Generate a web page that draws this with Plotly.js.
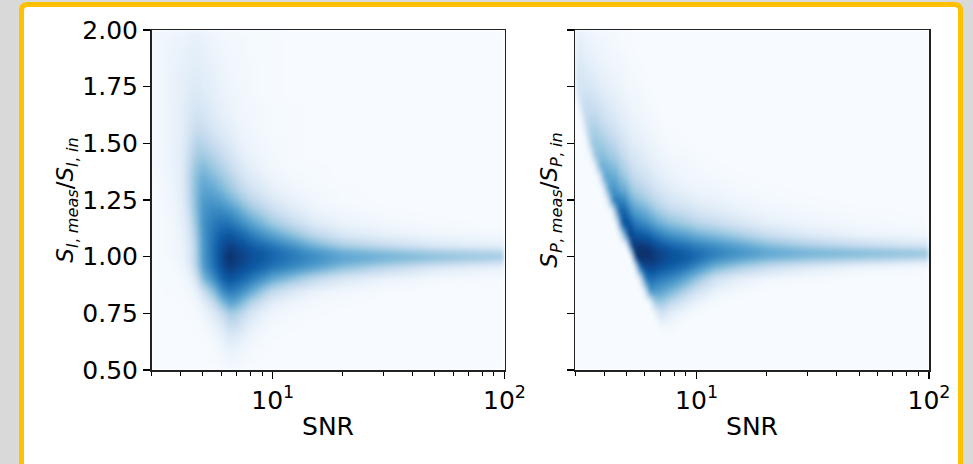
<!DOCTYPE html>
<html>
<head>
<meta charset="utf-8">
<script src="https://cdn.plot.ly/plotly-3.0.1.min.js"></script>
<style>
  html, body { margin: 0; padding: 0; background: #d9d9d9; }
  #chart { width: 973px; height: 464px; }
</style>
</head>
<body>
<div id="chart"></div>
<script>
// SNR sample columns (x) for each panel and the shared ratio rows (y) of the density grids
const snrI = [3, 3.25, 3.5, 3.75, 4, 4.25, 4.5, 4.75, 5, 5.5, 6, 6.5, 7, 7.5, 8, 9, 10, 12, 15, 20, 30, 50, 100];
const snrP = [3, 3.1, 3.2, 3.3, 3.4, 3.5, 3.6, 3.7, 3.8, 3.9, 4, 4.15, 4.3, 4.45, 4.6, 4.75, 4.9,
              5.05, 5.2, 5.4, 5.6, 5.8, 6, 6.25, 6.5, 6.75, 7, 7.5, 8, 9, 10, 12, 15, 20, 30, 50, 100];
const ratio = [0.50, 0.55, 0.60, 0.65, 0.70, 0.75, 0.80, 0.85, 0.90, 0.95, 0.975, 1.00, 1.025, 1.05,
               1.10, 1.15, 1.20, 1.25, 1.30, 1.35, 1.40, 1.45, 1.50, 1.55, 1.60, 1.65, 1.70,
               1.75, 1.80, 1.85, 1.90, 1.95, 2.00];

// Tick values and labels
const xTickVals = [10, 100];
const xTickText = ['10<sup>1</sup>', '10<sup>2</sup>'];
const xMinorVals = [3, 4, 5, 6, 7, 8, 9, 20, 30, 40, 50, 60, 70, 80, 90];
const yTickVals = [0.5, 0.75, 1.0, 1.25, 1.5, 1.75, 2.0];
const yTickText = ['0.50', '0.75', '1.00', '1.25', '1.50', '1.75', '2.00'];

// Relative density (0-100) of S_I: one column per snrI value, ratio 0.50 up to 2.00
const densityI = [
  [0,0,0,0,0,0,0,0,0,1,1,1,1,1,1,1,1,1,1,1,2,2,2,2,2,2,2,2,2,2,2,2,2],
  [0,0,0,0,0,0,0,0,1,1,1,1,1,1,1,1,2,2,2,2,3,3,3,3,3,3,3,3,3,3,3,3,3],
  [0,0,0,0,0,0,0,1,1,1,1,2,2,2,2,2,3,3,3,4,4,4,4,5,5,5,5,5,5,5,5,4,4],
  [0,0,0,0,0,0,0,1,1,2,2,3,3,3,3,4,4,5,6,6,7,7,7,7,7,7,7,7,7,6,6,5,5],
  [0,0,0,0,0,0,1,1,2,3,4,5,5,5,6,7,8,9,10,10,10,10,10,9,9,9,8,8,8,7,7,6,5],
  [0,0,0,0,0,1,1,2,4,7,9,10,10,11,12,14,17,20,21,22,21,19,17,15,14,13,12,11,10,9,8,7,6],
  [0,0,0,0,1,1,2,4,10,18,21,22,22,23,26,31,35,37,38,37,34,30,26,22,19,16,14,12,11,10,9,8,7],
  [0,0,0,1,1,2,4,10,24,36,39,40,40,41,43,46,48,48,47,45,41,36,31,26,21,18,15,13,12,11,10,8,7],
  [0,0,0,1,2,4,9,22,44,56,58,59,59,60,61,62,61,59,55,50,44,37,30,24,19,16,13,11,10,9,8,7,6],
  [0,1,1,3,6,12,24,42,62,73,75,76,76,76,74,71,66,60,53,45,38,31,24,18,14,12,10,9,8,7,6,5,4],
  [1,2,4,8,14,24,44,64,80,88,90,91,90,88,83,75,66,56,46,38,31,24,18,13,10,8,7,6,5,5,4,3,3],
  [2,4,8,14,24,36,56,72,86,95,98,100,98,94,85,74,62,49,39,31,24,18,13,10,8,6,5,4,4,3,3,2,2],
  [2,4,7,12,22,33,52,68,82,91,94,95,94,90,81,69,56,43,32,24,18,13,9,7,5,4,4,3,3,3,2,2,2],
  [1,2,4,8,15,25,42,62,78,88,91,92,91,87,77,63,48,35,25,17,12,8,6,5,4,3,3,3,2,2,2,2,1],
  [0,1,2,5,9,16,32,53,72,84,87,88,87,82,71,56,41,29,19,13,9,6,5,4,3,3,2,2,2,2,1,1,1],
  [0,0,1,2,4,8,19,38,62,78,82,84,83,77,62,46,32,21,13,8,5,4,3,2,2,2,1,1,1,1,1,1,1],
  [0,0,0,1,2,4,10,26,52,72,77,79,78,72,55,37,24,14,8,5,3,2,2,1,1,1,1,1,1,1,1,1,1],
  [0,0,0,0,1,2,5,15,40,64,70,72,70,62,42,26,14,8,4,2,1,1,1,1,1,1,0,0,0,0,0,0,0],
  [0,0,0,0,0,1,2,7,26,54,62,64,60,48,28,13,6,3,2,1,1,0,0,0,0,0,0,0,0,0,0,0,0],
  [0,0,0,0,0,0,1,3,14,40,51,54,49,34,15,6,3,1,1,0,0,0,0,0,0,0,0,0,0,0,0,0,0],
  [0,0,0,0,0,0,0,1,6,27,42,48,42,25,8,3,1,0,0,0,0,0,0,0,0,0,0,0,0,0,0,0,0],
  [0,0,0,0,0,0,0,0,2,13,32,42,34,14,4,1,0,0,0,0,0,0,0,0,0,0,0,0,0,0,0,0,0],
  [0,0,0,0,0,0,0,0,1,5,21,36,27,8,2,0,0,0,0,0,0,0,0,0,0,0,0,0,0,0,0,0,0]
];

// Relative density (0-100) of S_P: one column per snrP value, ratio 0.50 up to 2.00
const densityP = [
  [0,0,0,0,0,0,0,0,0,0,0,0,0,0,0,0,0,0,0,0,0,0,0,0,0,0,0,10,15,14,12,9,8],
  [0,0,0,0,0,0,0,0,0,0,0,0,0,0,0,0,0,0,0,0,0,0,0,0,0,0,15,18,17,14,12,9,7],
  [0,0,0,0,0,0,0,0,0,0,0,0,0,0,0,0,0,0,0,0,0,0,0,0,4,22,21,18,16,13,10,8,6],
  [0,0,0,0,0,0,0,0,0,0,0,0,0,0,0,0,0,0,0,0,0,0,0,10,26,25,21,18,14,12,9,7,5],
  [0,0,0,0,0,0,0,0,0,0,0,0,0,0,0,0,0,0,0,0,0,0,16,31,29,25,21,17,13,10,8,5,4],
  [0,0,0,0,0,0,0,0,0,0,0,0,0,0,0,0,0,0,0,0,0,10,35,33,29,23,20,16,12,9,7,5,4],
  [0,0,0,0,0,0,0,0,0,0,0,0,0,0,0,0,0,0,0,0,0,32,39,35,30,25,20,16,12,9,7,5,4],
  [0,0,0,0,0,0,0,0,0,0,0,0,0,0,0,0,0,0,0,0,22,42,40,35,30,23,18,14,10,8,6,4,3],
  [0,0,0,0,0,0,0,0,0,0,0,0,0,0,0,0,0,0,0,8,46,42,36,31,25,20,16,12,9,7,5,4,3],
  [0,0,0,0,0,0,0,0,0,0,0,0,0,0,0,0,0,0,0,32,50,44,37,31,25,20,15,11,8,6,5,4,3],
  [0,0,0,0,0,0,0,0,0,0,0,0,0,0,0,0,0,0,20,54,50,42,35,28,22,17,13,10,7,6,4,3,3],
  [0,0,0,0,0,0,0,0,0,0,0,0,0,0,0,0,0,17,58,55,47,39,32,25,19,15,11,8,7,5,4,3,2],
  [0,0,0,0,0,0,0,0,0,0,0,0,0,0,0,0,0,62,60,52,44,36,29,23,18,13,10,7,5,4,3,2,2],
  [0,0,0,0,0,0,0,0,0,0,0,0,0,0,0,0,46,72,62,52,43,35,28,21,16,12,9,7,5,4,3,2,2],
  [0,0,0,0,0,0,0,0,0,0,0,0,0,0,0,39,78,73,57,47,39,31,24,18,13,10,8,6,4,3,2,2,1],
  [0,0,0,0,0,0,0,0,0,0,0,0,0,0,25,84,80,67,51,41,33,26,20,15,11,9,7,5,4,3,2,1,1],
  [0,0,0,0,0,0,0,0,0,0,0,0,0,0,63,89,82,68,51,40,31,24,18,14,10,8,6,4,3,2,2,1,1],
  [0,0,0,0,0,0,0,0,0,0,0,0,0,47,93,86,72,55,43,33,26,19,14,11,8,6,4,3,2,2,1,1,1],
  [0,0,0,0,0,0,0,0,0,0,0,0,60,97,94,83,64,50,39,30,22,17,12,9,7,5,4,3,2,1,1,1,0],
  [0,0,0,0,0,0,0,0,0,0,36,97,98,96,86,73,58,45,34,26,20,15,11,8,6,4,3,2,2,1,1,0,0],
  [0,0,0,0,0,0,0,0,0,62,92,99,100,97,85,70,55,42,31,23,17,13,9,7,5,4,3,2,1,1,0,0,0],
  [0,0,0,0,0,0,0,0,40,85,95,100,100,96,83,67,52,40,30,22,16,12,9,7,5,4,3,2,1,1,0,0,0],
  [0,0,0,0,0,0,0,20,72,88,95,99,100,96,82,65,50,37,27,20,14,10,7,5,4,3,2,1,1,0,0,0,0],
  [0,0,0,0,0,0,0,62,76,90,96,99,99,94,79,61,46,33,24,17,12,8,6,4,3,2,1,1,0,0,0,0,0],
  [0,0,0,0,0,0,31,60,76,90,95,97,96,91,75,57,41,29,20,14,10,7,5,3,2,1,1,0,0,0,0,0,0],
  [0,0,0,0,0,13,38,56,72,87,92,94,93,88,71,52,37,26,18,12,8,6,4,3,2,1,0,0,0,0,0,0,0],
  [0,0,0,0,4,20,38,55,70,85,90,92,91,85,68,49,34,23,16,10,7,5,3,2,1,0,0,0,0,0,0,0,0],
  [0,0,0,1,4,12,30,49,66,82,87,89,88,81,63,44,29,18,12,7,5,3,2,1,0,0,0,0,0,0,0,0,0],
  [0,0,0,0,2,8,24,44,63,79,85,87,85,78,60,41,26,16,10,6,4,2,1,1,0,0,0,0,0,0,0,0,0],
  [0,0,0,0,0,3,13,31,52,72,80,83,81,74,55,36,22,13,7,4,3,2,1,0,0,0,0,0,0,0,0,0,0],
  [0,0,0,0,0,1,6,19,39,62,72,77,76,69,49,30,17,9,5,3,2,1,0,0,0,0,0,0,0,0,0,0,0],
  [0,0,0,0,0,0,1,7,19,45,58,67,69,63,43,25,13,7,4,2,1,0,0,0,0,0,0,0,0,0,0,0,0],
  [0,0,0,0,0,0,0,2,9,33,48,59,62,55,35,17,8,4,2,1,0,0,0,0,0,0,0,0,0,0,0,0,0],
  [0,0,0,0,0,0,0,0,3,21,37,50,53,44,23,9,4,2,1,0,0,0,0,0,0,0,0,0,0,0,0,0,0],
  [0,0,0,0,0,0,0,0,1,11,29,44,47,34,13,5,2,1,0,0,0,0,0,0,0,0,0,0,0,0,0,0,0],
  [0,0,0,0,0,0,0,0,0,4,21,40,43,25,6,2,1,0,0,0,0,0,0,0,0,0,0,0,0,0,0,0,0],
  [0,0,0,0,0,0,0,0,0,1,11,34,38,15,3,1,0,0,0,0,0,0,0,0,0,0,0,0,0,0,0,0,0]
];

// Sequential blue colour map, white-blue to navy
const blues = [
  [0.000, '#f7fbff'], [0.125, '#deebf7'], [0.250, '#c6dbef'],
  [0.375, '#9ecae1'], [0.500, '#6baed6'], [0.625, '#4292c6'],
  [0.750, '#2171b5'], [0.875, '#08519c'], [1.000, '#08306b']
];

const W = 973, H = 464;
const font = { family: 'DejaVu Sans, sans-serif', size: 25, color: '#000' };
const titleFont = { family: 'DejaVu Sans, sans-serif', size: 23, color: '#000' };
const px = v => v / W;
const py = v => 1 - v / H;

function densityTrace(xs, z, xa, ya) {
  return {
    type: 'heatmap', x: xs, y: ratio, z: z, transpose: true,
    xaxis: xa, yaxis: ya, colorscale: blues, zmin: 0, zmax: 100,
    zsmooth: 'best', showscale: false, hoverinfo: 'skip'
  };
}

function xAxis(domain, anchor) {
  return {
    type: 'log', domain: domain, anchor: anchor, range: [Math.log10(3), 2],
    tickmode: 'array', tickvals: xTickVals, ticktext: xTickText,
    ticks: 'outside', ticklen: 7, tickwidth: 1.3, tickcolor: '#000',
    minor: { tickmode: 'array', tickvals: xMinorVals, ticks: 'outside',
             ticklen: 4, tickwidth: 1, tickcolor: '#000', showgrid: false },
    showline: true, mirror: true, linecolor: '#222', linewidth: 1.5,
    showgrid: false, zeroline: false, tickfont: font,
    title: { text: 'SNR', font: font, standoff: 4 }
  };
}

function yAxis(domain, anchor, labels, titleText) {
  return {
    domain: domain, anchor: anchor, range: [0.5, 2.0],
    tickmode: 'array', tickvals: yTickVals, ticktext: yTickText,
    showticklabels: labels,
    ticks: 'outside', ticklen: 7, tickwidth: 1.3, tickcolor: '#000',
    showline: true, mirror: true, linecolor: '#222', linewidth: 1.5,
    showgrid: false, zeroline: false, tickfont: font,
    title: { text: titleText, font: titleFont, standoff: labels ? 1 : 2 }
  };
}

const yDom = [py(370), py(30)];
const titleI = '<i>S</i><sub><i>I</i>, <i>meas</i></sub>/<i>S</i><sub><i>I</i>, <i>in</i></sub>';
const titleP = '<i>S</i><sub><i>P</i>, <i>meas</i></sub>/<i>S</i><sub><i>P</i>, <i>in</i></sub>';

// Yellow card frame with rounded top corners
const fx0 = px(21.5), fx1 = px(960.5), fy1 = py(4.5), fy0 = -0.1;
const rx = px(6), ry = 6 / H;
const framePath = `M ${fx0} ${fy0} L ${fx0} ${fy1 - ry} Q ${fx0} ${fy1} ${fx0 + rx} ${fy1} ` +
  `L ${fx1 - rx} ${fy1} Q ${fx1} ${fy1} ${fx1} ${fy1 - ry} L ${fx1} ${fy0} Z`;

const layout = {
  width: W, height: H,
  margin: { l: 0, r: 0, t: 0, b: 0 },
  paper_bgcolor: '#d9d9d9', plot_bgcolor: '#f7fbff',
  font: font, showlegend: false,
  xaxis: xAxis([px(151.5), px(504.5)], 'y'),
  yaxis: yAxis(yDom, 'x', true, titleI),
  xaxis2: xAxis([px(575), px(929)], 'y2'),
  yaxis2: yAxis(yDom, 'x2', false, titleP),
  shapes: [{
    type: 'path', xref: 'paper', yref: 'paper', layer: 'below',
    path: framePath, fillcolor: '#ffffff',
    line: { color: '#ffc000', width: 5 }
  }]
};

Plotly.newPlot('chart', [
  densityTrace(snrI, densityI, 'x', 'y'),
  densityTrace(snrP, densityP, 'x2', 'y2')
], layout, { staticPlot: true, displayModeBar: false }).then(gd => {
  // Soften the interpolated density images like a kernel density estimate
  const ns = 'http://www.w3.org/2000/svg';
  const svg = gd.querySelector('svg.main-svg');
  let defs = svg.querySelector('defs');
  if (!defs) { defs = document.createElementNS(ns, 'defs'); svg.insertBefore(defs, svg.firstChild); }
  const filter = document.createElementNS(ns, 'filter');
  filter.setAttribute('id', 'kde-soften');
  const blur = document.createElementNS(ns, 'feGaussianBlur');
  blur.setAttribute('stdDeviation', '2');
  filter.appendChild(blur);
  defs.appendChild(filter);
  gd.querySelectorAll('.heatmaplayer image').forEach(im => im.setAttribute('filter', 'url(#kde-soften)'));
});
</script>
</body>
</html>
